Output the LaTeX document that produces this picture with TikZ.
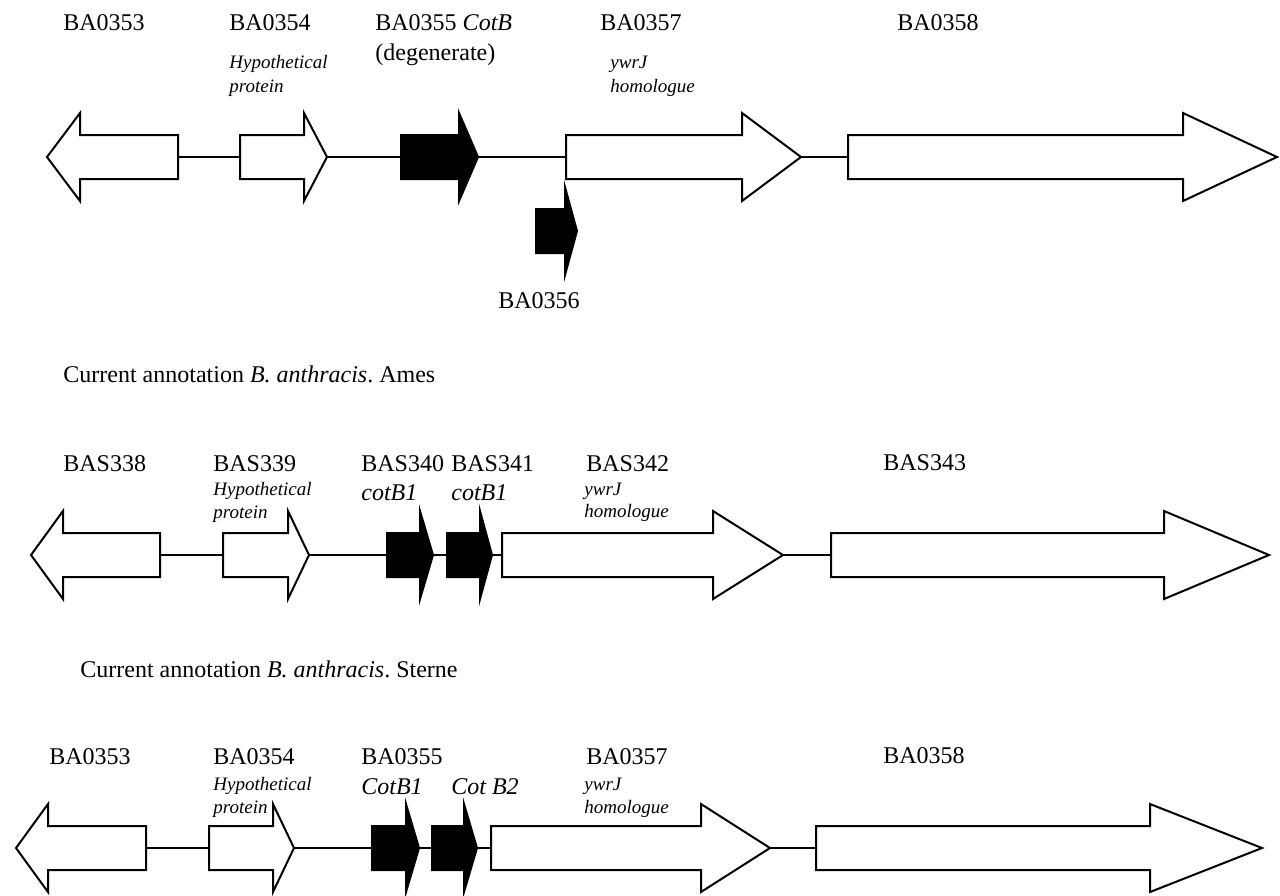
\documentclass[tikz,border=0pt]{standalone}
\usepackage{fontspec}
\setmainfont{Liberation Serif}
\usepackage{tikz}
\frenchspacing

% gene arrow: #1 name, #2 style, #3 centre y, #4 tail x, #5 head base x, #6 tip x
\newcommand{\gene}[6]{%
  \draw[#2] (#4,#3-22) -- (#5,#3-22) -- (#5,#3-44) -- (#6,#3)
        -- (#5,#3+44) -- (#5,#3+22) -- (#4,#3+22) -- cycle;
  \coordinate (#1-tail) at (#4,#3);
  \coordinate (#1-tip) at (#6,#3);}

\begin{document}
\begin{tikzpicture}[
        x=0.5pt, y=-0.5pt,
        orf/.style={draw, line width=1pt, fill=white, line join=miter},
        cot/.style={orf, fill=black},
        link/.style={line width=0.7pt},
        lbl/.style={anchor=base west, inner sep=0pt, font=\fontsize{12}{14}\selectfont},
        note/.style={anchor=base west, inner sep=0pt, font=\fontsize{9.5}{11}\selectfont\itshape},
    ]
    \useasboundingbox[fill=white] (0,0) rectangle (1280,895);

    % ── Row 1 ──
    \gene{a353}{orf}{157}{178}{80}{47}
    \gene{a354}{orf}{157}{240}{304}{327}
    \gene{a355}{cot}{157}{401}{459}{478}
    \gene{a357}{orf}{157}{566}{742}{801}
    \gene{a358}{orf}{157}{848}{1183}{1277}
    \gene{a356}{cot}{231}{536}{565}{577}

    \draw[link] (a353-tail) -- (a354-tail);
    \draw[link] (a354-tip) -- (a355-tail);
    \draw[link] (a355-tip) -- (a357-tail);
    \draw[link] (a357-tip) -- (a358-tail);

    \node[lbl] (la353) at (63,30) {BA0353};
    \node[lbl] (la354) at (229,30) {BA0354};
    \node[note] (la354a) at (229,68) {Hypothetical};
    \node[note] (la354b) at (229,92) {protein};
    \node[lbl] (la355) at (375,30) {BA0355 \textit{CotB}};
    \node[lbl] (la355a) at (375,60) {(degenerate)};
    \node[lbl] (la357) at (600,30) {BA0357};
    \node[note] (la357a) at (610,68) {ywrJ};
    \node[note] (la357b) at (610,92) {homologue};
    \node[lbl] (la358) at (897,30) {BA0358};
    \node[lbl] (la356) at (498,308) {BA0356};

    \node[lbl] (ames) at (63,382) {Current annotation \textit{B. anthracis}. Ames};

    % ── Row 2 ──
    \gene{s338}{orf}{555}{160}{63}{31}
    \gene{s339}{orf}{555}{223}{288}{309}
    \gene{s340}{cot}{555}{387}{420}{433}
    \gene{s341}{cot}{555}{447}{480}{492}
    \gene{s342}{orf}{555}{502}{713}{783}
    \gene{s343}{orf}{555}{831}{1164}{1269}

    \draw[link] (s338-tail) -- (s339-tail);
    \draw[link] (s339-tip) -- (s340-tail);
    \draw[link] (s340-tip) -- (s341-tail);
    \draw[link] (s341-tip) -- (s342-tail);
    \draw[link] (s342-tip) -- (s343-tail);

    \node[lbl] (ls338) at (63,471) {BAS338};
    \node[lbl] (ls339) at (213,471) {BAS339};
    \node[note] (ls339a) at (213,495) {Hypothetical};
    \node[note] (ls339b) at (213,518) {protein};
    \node[lbl] (ls340) at (361,471) {BAS340};
    \node[lbl] (ls341) at (451,471) {BAS341};
    \node[lbl] (ls340a) at (361,500) {\textit{cotB1}};
    \node[lbl] (ls341a) at (451,500) {\textit{cotB1}};
    \node[lbl] (ls342) at (586,471) {BAS342};
    \node[note] (ls342a) at (584,495) {ywrJ};
    \node[note] (ls342b) at (584,517) {homologue};
    \node[lbl] (ls343) at (883,470) {BAS343};

    \node[lbl] (sterne) at (80,677) {Current annotation \textit{B. anthracis}. Sterne};

    % ── Row 3 ──
    \gene{b353}{orf}{848}{146}{48}{16}
    \gene{b354}{orf}{848}{209}{273}{294}
    \gene{b355}{cot}{848}{372}{406}{419}
    \gene{b35x}{cot}{848}{432}{464}{477}
    \gene{b357}{orf}{848}{491}{701}{770}
    \gene{b358}{orf}{848}{816}{1150}{1262}

    \draw[link] (b353-tail) -- (b354-tail);
    \draw[link] (b354-tip) -- (b355-tail);
    \draw[link] (b355-tip) -- (b35x-tail);
    \draw[link] (b35x-tip) -- (b357-tail);
    \draw[link] (b357-tip) -- (b358-tail);

    \node[lbl] (lb353) at (49,764) {BA0353};
    \node[lbl] (lb354) at (213,764) {BA0354};
    \node[note] (lb354a) at (213,790) {Hypothetical};
    \node[note] (lb354b) at (213,813) {protein};
    \node[lbl] (lb355) at (361,764) {BA0355};
    \node[lbl] (lb355a) at (361,794) {\textit{CotB1}};
    \node[lbl] (lb35x) at (451,794) {\textit{Cot B2}};
    \node[lbl] (lb357) at (586,764) {BA0357};
    \node[note] (lb357a) at (584,790) {ywrJ};
    \node[note] (lb357b) at (584,813) {homologue};
    \node[lbl] (lb358) at (883,763) {BA0358};

    \end{tikzpicture}
\end{document}
